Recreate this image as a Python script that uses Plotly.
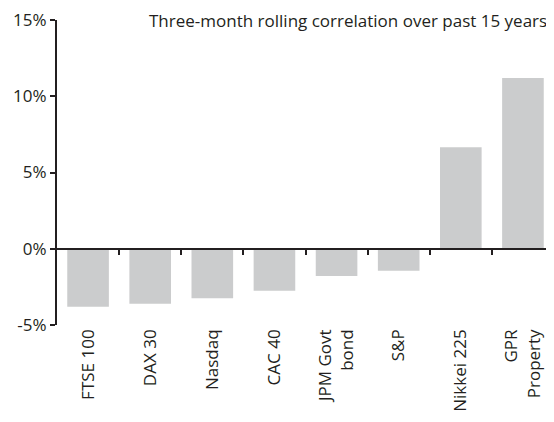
import plotly.graph_objects as go

categories = ["FTSE 100", "DAX 30", "Nasdaq", "CAC 40", "JPM Govt<br>bond", "S&P", "Nikkei 225", "GPR<br>Property"]
values = [-3.8, -3.6, -3.25, -2.75, -1.78, -1.45, 6.65, 11.2]
ytick_vals = [-5, 0, 5, 10, 15]
ytick_text = ["-5%", "0%", "5%", "10%", "15%"]
title_text = "Three-month rolling correlation over past 15 years"

FONT = "Open Sans"
FS = 17
DARK = "#231f20"
x_idx = list(range(len(categories)))

fig = go.Figure()
fig.add_trace(go.Bar(x=x_idx, y=values, marker=dict(color="#cbcccd", line=dict(width=0)),
                     width=0.67, hoverinfo="skip", showlegend=False))
# invisible trace to carry the zero-positioned axis
fig.add_trace(go.Scatter(x=[x_idx[0]], y=[0], xaxis="x2", mode="markers",
                         marker=dict(opacity=0), hoverinfo="skip", showlegend=False))

fig.update_layout(
    width=546, height=414,
    margin=dict(l=49, r=0, t=12, b=97, autoexpand=False),
    paper_bgcolor="white", plot_bgcolor="white",
    font=dict(family=FONT, size=FS, color=DARK),
    xaxis=dict(range=[-0.5, 7.5], tickmode="array", tickvals=x_idx, ticktext=categories,
               tickangle=-90, showline=False, showgrid=False, zeroline=False, automargin=False,
               ticklabeloverflow="allow",
               ticks="", ticklen=0, tickfont=dict(size=FS, color=DARK, family=FONT)),
    xaxis2=dict(range=[-0.5, 7.5], overlaying="x", anchor="free", position=0.25,
                tickmode="array", tickvals=[i + 0.5 for i in x_idx[:-1]],
                showticklabels=False, ticks="outside", ticklen=5, tickwidth=2, tickcolor=DARK,
                showline=True, linecolor=DARK, linewidth=1.5, showgrid=False, zeroline=False),
    yaxis=dict(range=[-5, 15], tickmode="array", tickvals=ytick_vals, ticktext=ytick_text,
               ticks="outside", ticklen=5, tickwidth=2, tickcolor=DARK, automargin=False,
               ticklabeloverflow="allow",
               showline=True, linecolor=DARK, linewidth=2, showgrid=False, zeroline=False,
               tickfont=dict(size=FS, color=DARK, family=FONT)),
    annotations=[dict(text=title_text, xref="paper", yref="paper", x=0.99, y=1.0,
                      xanchor="right", yanchor="middle", showarrow=False,
                      font=dict(size=FS, color=DARK, family=FONT))],
)

fig.write_html("out.html")
